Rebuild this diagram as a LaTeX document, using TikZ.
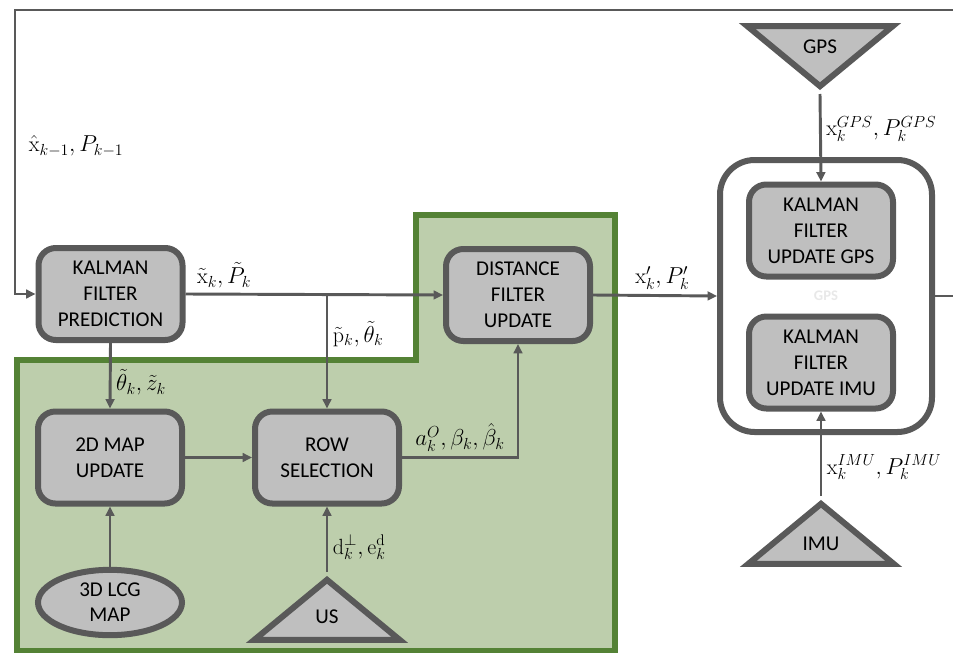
\documentclass[tikz,border=0pt]{standalone}
\usepackage{fontspec}
\usepackage{tikz}
\usetikzlibrary{positioning,arrows.meta,calc,shapes.geometric}
\newfontfamily\boxfont{Carlito}
\definecolor{BoxGray}{RGB}{191,191,191}
\definecolor{EdgeGray}{RGB}{89,89,89}
\definecolor{LeafGreen}{RGB}{84,130,53}
\definecolor{SageFill}{RGB}{189,206,172}

\begin{document}
\begin{tikzpicture}[x=0.75pt,y=-0.75pt,
  every node/.style={font=\fontsize{16.5}{19}\selectfont},
  block/.style={draw=EdgeGray, line width=4.5pt, fill=BoxGray, rounded corners=13pt,
    minimum width=108pt, minimum height=69pt, align=center,
    font=\boxfont\fontsize{15.8}{19.5}\selectfont},
  sensor/.style={isosceles triangle, isosceles triangle stretches, draw=EdgeGray,
    line width=4.5pt, fill=BoxGray, minimum width=109pt, minimum height=45pt,
    inner sep=0pt, font=\boxfont\fontsize{15.8}{19.5}\selectfont},
  store/.style={ellipse, draw=EdgeGray, line width=4.5pt, fill=BoxGray,
    minimum width=108pt, minimum height=49pt, inner sep=0pt, align=center,
    font=\boxfont\fontsize{15.8}{18.75}\selectfont},
  group/.style={draw=EdgeGray, line width=4.5pt, rounded corners=26pt,
    minimum width=159pt, minimum height=204pt, text=black!9,
    font=\boxfont\bfseries\fontsize{11}{12}\selectfont},
  flow/.style={draw=EdgeGray, line width=2.2pt, -{Triangle[length=7pt,width=6.5pt]}},
  zone/.style={draw=LeafGreen, line width=4.5pt, fill=SageFill}]
  \useasboundingbox (0,0) rectangle (953,653);

  % green region
  \draw[zone] (17,360) -- (416,360) -- (416,215) -- (615,215) -- (615,651)
    -- (17,651) -- cycle;

  \node[block] (kfpred) at (110.5,294) {KALMAN\\FILTER\\PREDICTION};
  \node[block] (dist) at (518,295) {DISTANCE\\FILTER\\UPDATE};
  \node[block] (map2d) at (110,457.5) {2D MAP\\UPDATE};
  \node[block] (rowsel) at (327,457.5) {ROW\\SELECTION};
  \node[store] (lcg) at (110,602.5) {3D LCG\\MAP};
  \node[sensor, shape border rotate=90, anchor=apex] (us) at (327,572) {US};

  \node[group] (fusion) at (826,296) {GPS};
  \node[block] (kfgps) at (821,230.5) {KALMAN\\FILTER\\UPDATE GPS};
  \node[block] (kfimu) at (821,362.5) {KALMAN\\FILTER\\UPDATE IMU};
  \node[sensor, shape border rotate=270, anchor=apex] (gps) at (820,94) {GPS};
  \node[sensor, shape border rotate=90, anchor=apex] (imu) at (821,496) {IMU};

  \coordinate (split) at (rowsel.north |- kfpred.east);
  \coordinate (loopR) at (975,10);
  \coordinate (loopL) at (15,10);

  \draw[flow] (kfpred.east) -- node[above, pos=0.15] {$\tilde{\mathrm{x}}_k,\tilde{P}_k$} (dist.west);
  \draw[flow] (split) -- node[right, pos=0.35] {$\tilde{\mathrm{p}}_k,\tilde{\theta}_k$} (rowsel.north);
  \draw[flow] (kfpred.south) -- node[right, pos=0.6] {$\tilde{\theta}_k,\tilde{z}_k$} (map2d.north);
  \draw[flow] (map2d.east) -- (rowsel.west);
  \draw[flow] (lcg.north) -- (map2d.south);
  \draw[flow] (rowsel.east) -| node[above, pos=0.25] {$a_k^{O},\beta_k,\hat{\beta}_k$} (dist.south);
  \draw[flow] (us.apex) -- node[right, pos=0.38] {$\mathrm{d}_k^{\perp},\mathrm{e}_k^{\mathrm{d}}$} (rowsel.south);
  \draw[flow] (dist.east) -- node[above, pos=0.56] {$\mathrm{x}'_k,P'_k$} (fusion.west);
  \draw[flow] (gps.apex) -- node[right, pos=0.4] {$\mathrm{x}_k^{GPS},P_k^{GPS}$} (kfgps.north);
  \draw[flow] (imu.apex) -- node[right, pos=0.34] {$\mathrm{x}_k^{IMU},P_k^{IMU}$} (kfimu.south);
  \draw[flow] (fusion.east) -| (loopR) -- (loopL)
    |- node[right, pos=0.24, xshift=6pt] {$\hat{\mathrm{x}}_{k-1},P_{k-1}$} (kfpred.west);
\end{tikzpicture}
\end{document}
